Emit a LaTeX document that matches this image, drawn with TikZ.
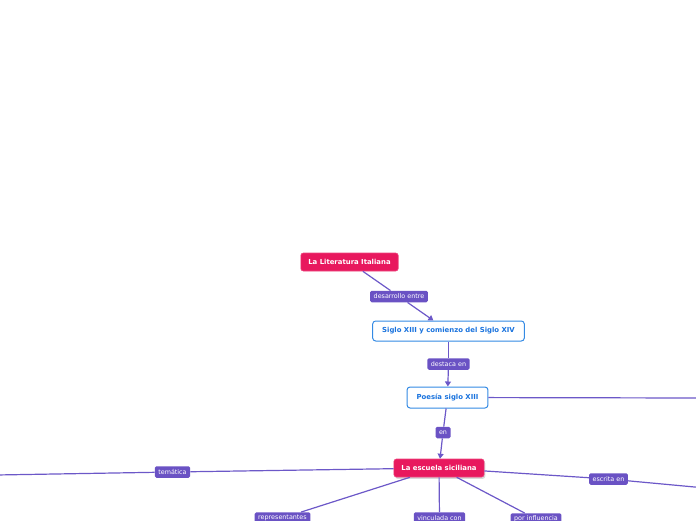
\documentclass[tikz,border=0pt]{standalone}
\usepackage{fontspec}
\setmainfont{DejaVu Sans}
\usetikzlibrary{arrows.meta,shadows}
\definecolor{pinkc}{RGB}{232,24,94}
\definecolor{purp}{RGB}{106,82,196}
\definecolor{linec}{RGB}{108,88,200}
\definecolor{bluet}{RGB}{26,115,222}
\definecolor{blueb}{RGB}{52,138,228}
\tikzset{
  x=1pt,y=-1pt,
  mainbox/.style={draw=pinkc!80!white,line width=0.6pt,fill=pinkc,text=white,rounded corners=2.5pt,
    font=\fontsize{6.9}{7}\selectfont\bfseries,inner xsep=7.5pt,inner ysep=0pt,minimum height=18pt},
  subbox/.style={draw=blueb,line width=1pt,fill=white,text=bluet,rounded corners=3pt,
    font=\fontsize{6.9}{7}\selectfont\bfseries,inner xsep=9.5pt,inner ysep=0pt,minimum height=20pt},
  lbl/.style={fill=purp,text=white,rounded corners=1.5pt,font=\fontsize{6.4}{7}\selectfont,
    inner xsep=3.5pt,inner ysep=0pt,minimum height=11.5pt},
  conn/.style={draw=linec,line width=1.2pt},
  arr/.style={conn,-{Triangle[length=5pt,width=6pt]}}
}
\begin{document}
\begin{tikzpicture}
\useasboundingbox (0,0) rectangle (696,520);
\clip (0,0) rectangle (696,520);
\node[mainbox] (lit) at (349.5,262) {La Literatura Italiana};
\node[lbl] (des) at (399,296.5) {desarrollo entre};
\node[subbox] (siglo) at (448.5,331) {Siglo XIII y comienzo del Siglo XIV};
\node[lbl] (dest) at (448.5,364) {destaca en};
\node[subbox,minimum height=21pt] (poes) at (447.5,397.5) {Poesía siglo XIII};
\node[lbl] (en) at (443,432.5) {en};
\node[mainbox,drop shadow={shadow xshift=1.2pt,shadow yshift=-1.8pt,opacity=0.3}] (esc) at (439,468) {La escuela siciliana};
\node[lbl] (tem) at (172.5,472) {temática};
\node[lbl] (escr) at (608.5,479) {escrita en};
\node[lbl] (rep) at (282.5,518) {representantes};
\node[lbl] (vinc) at (439.5,518) {vinculada con};
\node[lbl] (infl) at (536,519) {por influencia};
\coordinate (poesR) at (700,398);
\coordinate (temL) at (-4,475);
\coordinate (escrR) at (700,487.5);
\draw[conn] (lit) -- (des);
\draw[arr] (des) -- (siglo);
\draw[conn] (siglo) -- (dest);
\draw[arr] (dest) -- (poes);
\draw[conn] (poes) -- (poesR);
\draw[conn] (poes) -- (en);
\draw[arr] (en) -- (esc);
\draw[conn] (esc) -- (tem);
\draw[conn] (tem) -- (temL);
\draw[conn] (esc) -- (escr);
\draw[conn] (escr) -- (escrR);
\draw[conn] (esc) -- (rep);
\draw[conn] (esc) -- (vinc);
\draw[conn] (esc) -- (infl);
\end{tikzpicture}
\end{document}
